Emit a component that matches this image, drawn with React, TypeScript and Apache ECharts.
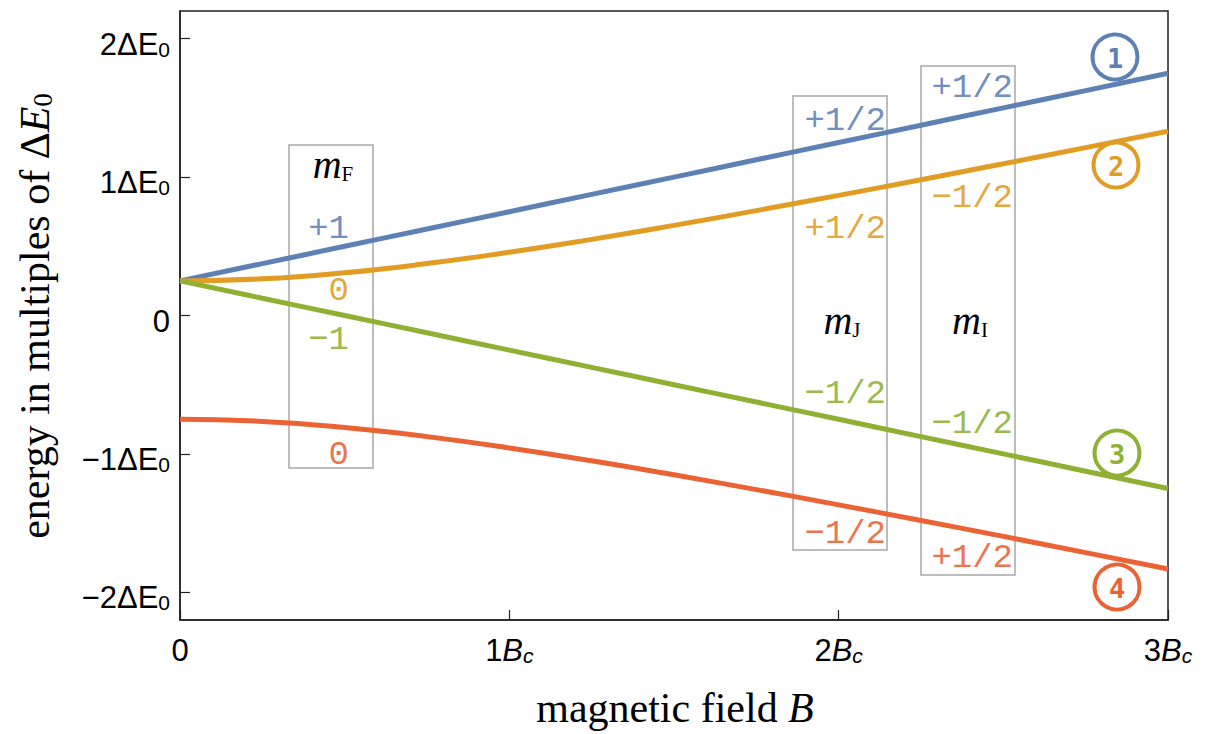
import React, { useEffect, useRef } from "react";
import * as echarts from "echarts";

// magnetic field in units of B_c
const fieldB = [0, 0.25, 0.5, 0.75, 1, 1.25, 1.5, 1.75, 2, 2.25, 2.5, 2.75, 3];
// energies in units of ΔE0
const level1 = [0.25, 0.375, 0.5, 0.625, 0.75, 0.875, 1.0, 1.125, 1.25, 1.375, 1.5, 1.625, 1.75];
const level2 = [0.25, 0.265, 0.309, 0.375, 0.457, 0.55, 0.651, 0.758, 0.868, 0.981, 1.096, 1.213, 1.331];
const level3 = [0.25, 0.125, 0, -0.125, -0.25, -0.375, -0.5, -0.625, -0.75, -0.875, -1.0, -1.125, -1.25];
const level4 = [-0.75, -0.765, -0.809, -0.875, -0.957, -1.05, -1.151, -1.258, -1.368, -1.481, -1.596, -1.713, -1.831];

const xTicks = [0, 1, 2, 3];
const yTicks = [-2, -1, 0, 1, 2];

const levelNames = ["1", "2", "3", "4"];
const mFLabels = ["+1", "0", "−1", "0"];
const mJLabels = ["+1/2", "+1/2", "−1/2", "−1/2"];
const mILabels = ["+1/2", "−1/2", "−1/2", "+1/2"];

const COLORS = ["#5e81b5", "#e19c24", "#8fb032", "#eb6235"];

const SERIF = '"Liberation Serif", "DejaVu Serif", serif';
const SANS = '"Liberation Sans", Arial, sans-serif';
const MONO = '"Liberation Mono", "DejaVu Sans Mono", monospace';

function toPairs(ys: number[]) {
  return fieldB.map((b, i) => [b, ys[i]]);
}

function boxRect(x1: number, y1: number, x2: number, y2: number) {
  return {
    type: "rect",
    shape: { x: x1, y: y1, width: x2 - x1, height: y2 - y1 },
    style: { fill: "none", stroke: "#a8a8a8", lineWidth: 1.5 },
  };
}

function monoText(text: string, x: number, y: number, color: string) {
  return {
    type: "text",
    x,
    y,
    style: {
      text,
      fill: color,
      fontSize: 34,
      fontFamily: MONO,
      align: "right",
      verticalAlign: "middle",
      opacity: 0.9,
    },
  };
}

function mLabel(sub: string, x: number, y: number) {
  return {
    type: "text",
    x,
    y,
    style: {
      text: `{m|m}{s|${sub}}`,
      align: "center",
      verticalAlign: "middle",
      rich: {
        m: { fontFamily: SERIF, fontStyle: "italic", fontSize: 40, lineHeight: 44, verticalAlign: "bottom", fill: "#000" },
        s: { fontFamily: SERIF, fontSize: 21, lineHeight: 24, verticalAlign: "bottom", fill: "#000" },
      },
    },
  };
}

function circled(label: string, cx: number, cy: number, color: string) {
  return [
    {
      type: "circle",
      shape: { cx, cy, r: 22.5 },
      style: { fill: "none", stroke: color, lineWidth: 4 },
      z: 10,
    },
    {
      type: "text",
      x: cx,
      y: cy + 1,
      z: 10,
      style: {
        text: label,
        fill: color,
        fontSize: 27,
        fontWeight: "bold",
        fontFamily: '"DejaVu Sans Mono", monospace',
        align: "center",
        verticalAlign: "middle",
      },
    },
  ];
}

export default function App() {
  const ref = useRef<HTMLDivElement>(null);

  useEffect(() => {
    if (!ref.current) return;
    const chart = echarts.init(ref.current, null, { renderer: "svg" });

    const series = [level1, level2, level3, level4].map((lv, i) => ({
      type: "line",
      name: levelNames[i],
      data: toPairs(lv),
      smooth: true,
      showSymbol: false,
      symbol: "none",
      lineStyle: { color: COLORS[i], width: 5 },
      itemStyle: { color: COLORS[i] },
      z: 3,
    }));

    const graphic: any[] = [
      boxRect(289, 145, 373, 468),
      boxRect(793, 96, 887, 550),
      boxRect(921, 66, 1015, 575),
      mLabel("F", 333, 162),
      mLabel("J", 842, 318),
      mLabel("I", 970, 318),
      monoText(mFLabels[0], 349, 229, COLORS[0]),
      monoText(mFLabels[1], 349, 291, COLORS[1]),
      monoText(mFLabels[2], 349, 340, COLORS[2]),
      monoText(mFLabels[3], 349, 455, COLORS[3]),
      monoText(mJLabels[0], 886, 121, COLORS[0]),
      monoText(mJLabels[1], 886, 229, COLORS[1]),
      monoText(mJLabels[2], 886, 394, COLORS[2]),
      monoText(mJLabels[3], 886, 534, COLORS[3]),
      monoText(mILabels[0], 1013, 88, COLORS[0]),
      monoText(mILabels[1], 1013, 198, COLORS[1]),
      monoText(mILabels[2], 1013, 424, COLORS[2]),
      monoText(mILabels[3], 1013, 558, COLORS[3]),
      ...circled(levelNames[0], 1115, 57, COLORS[0]),
      ...circled(levelNames[1], 1116, 165, COLORS[1]),
      ...circled(levelNames[2], 1117, 453, COLORS[2]),
      ...circled(levelNames[3], 1117, 587, COLORS[3]),
      {
        type: "text",
        x: 31,
        y: 316,
        rotation: Math.PI / 2,
        style: {
          text: "{t|energy in multiples of Δ}{i|E}{s|0}",
          align: "center",
          verticalAlign: "middle",
          rich: {
            t: { fontFamily: SERIF, fontSize: 42, lineHeight: 50, verticalAlign: "bottom", fill: "#000" },
            i: { fontFamily: SERIF, fontStyle: "italic", fontSize: 42, lineHeight: 50, verticalAlign: "bottom", fill: "#000" },
            s: { fontFamily: SERIF, fontSize: 27, lineHeight: 27, verticalAlign: "bottom", fill: "#000" },
          },
        },
      },
      {
        type: "text",
        x: 675,
        y: 708,
        style: {
          text: "{t|magnetic field }{i|B}",
          align: "center",
          verticalAlign: "middle",
          rich: {
            t: { fontFamily: SERIF, fontSize: 42, lineHeight: 50, fill: "#000" },
            i: { fontFamily: SERIF, fontStyle: "italic", fontSize: 42, lineHeight: 50, fill: "#000" },
          },
        },
      },
    ];

    chart.setOption({
      animation: false,
      backgroundColor: "#fff",
      grid: {
        left: 180,
        right: 43,
        top: 11,
        bottom: 114,
        show: true,
        borderColor: "#222",
        borderWidth: 1.5,
        backgroundColor: "transparent",
        containLabel: false,
        outerBoundsMode: "none",
      },
      xAxis: {
        type: "value",
        min: 0,
        max: 3,
        interval: 1,
        axisLine: { show: true, onZero: false, lineStyle: { color: "#222", width: 1.5 } },
        axisTick: { show: true, inside: true, length: 10, customValues: xTicks, lineStyle: { color: "#222", width: 1.2 } },
        splitLine: { show: false },
        axisLabel: {
          margin: 4,
          customValues: xTicks,
          formatter: (v: number) => (v === 0 ? "{n|0}" : `{n|${v}}{b|B}{s|c}`),
          rich: {
            n: { fontFamily: SANS, fontSize: 31, lineHeight: 42, verticalAlign: "bottom", color: "#000" },
            b: { fontFamily: SANS, fontStyle: "italic", fontSize: 31, lineHeight: 42, verticalAlign: "bottom", color: "#000" },
            s: { fontFamily: SANS, fontStyle: "italic", fontSize: 21, lineHeight: 22, verticalAlign: "bottom", color: "#000" },
          },
        },
      },
      yAxis: {
        type: "value",
        min: -2.2,
        max: 2.2,
        axisLine: { show: true, onZero: false, lineStyle: { color: "#222", width: 1.5 } },
        axisTick: { show: true, inside: true, length: 10, customValues: yTicks, lineStyle: { color: "#222", width: 1.2 } },
        splitLine: { show: false },
        axisLabel: {
          margin: 10,
          customValues: yTicks,
          formatter: (v: number) =>
            v === 0 ? "{n|0}" : `{n|${v < 0 ? "−" : ""}${Math.abs(v)}ΔE}{s|0}`,
          rich: {
            n: { fontFamily: SANS, fontSize: 31, lineHeight: 42, verticalAlign: "bottom", color: "#000" },
            s: { fontFamily: SANS, fontSize: 21, lineHeight: 22, verticalAlign: "bottom", color: "#000" },
          },
        },
      },
      series,
      graphic,
    });

    return () => chart.dispose();
  }, []);

  return (
    <div
      ref={ref}
      style={{ position: "fixed", left: 0, top: 0, width: 1211, height: 734 }}
    />
  );
}
